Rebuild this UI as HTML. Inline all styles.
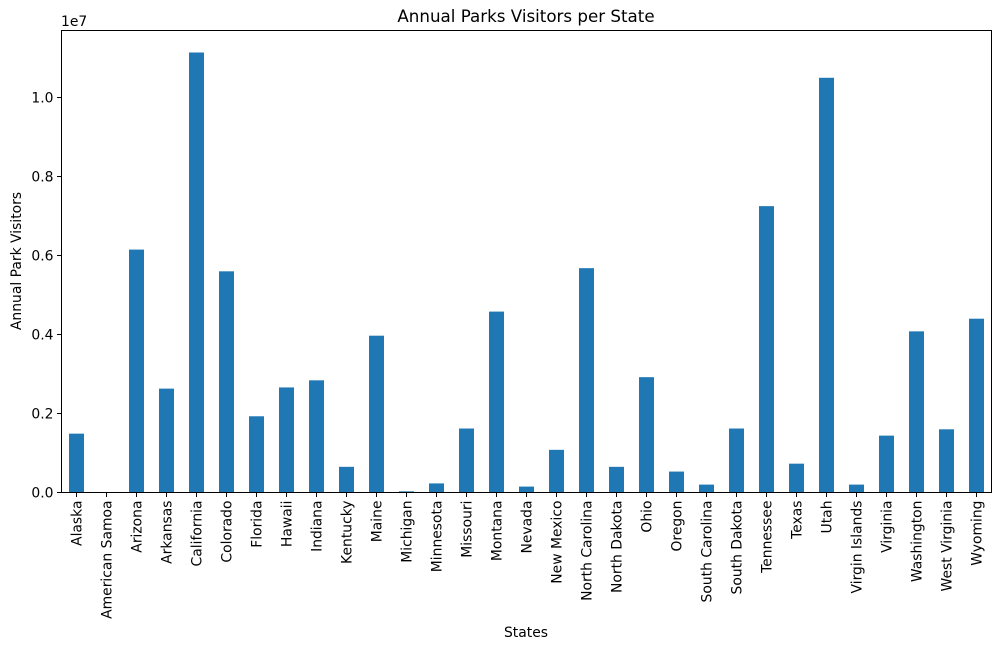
<!DOCTYPE html>
<html><head><meta charset="utf-8"><style>
html,body{margin:0;padding:0;background:#fff}
svg{display:block;font-family:"DejaVu Sans","Liberation Sans",sans-serif}
</style></head><body>
<svg id="chart" width="1001" height="650">
<text x="526" y="22" text-anchor="middle" font-size="16.7">Annual Parks Visitors per State</text>
<text x="61" y="26" font-size="13.9">1e7</text>
<text transform="translate(21,261) rotate(-90)" text-anchor="middle" font-size="13.9">Annual Park Visitors</text>
<text x="526" y="637" text-anchor="middle" font-size="13.9">States</text>
<g id="bars"></g><g id="xt"></g><g id="yt"></g>
<rect x="61.5" y="30.5" width="930" height="462" fill="none" stroke="#000" stroke-width="1"/>
</svg>
<script>
const categories=["Alaska","American Samoa","Arizona","Arkansas","California","Colorado","Florida","Hawaii","Indiana","Kentucky","Maine","Michigan","Minnesota","Missouri","Montana","Nevada","New Mexico","North Carolina","North Dakota","Ohio","Oregon","South Carolina","South Dakota","Tennessee","Texas","Utah","Virgin Islands","Virginia","Washington","West Virginia","Wyoming"];
const visitors=[1490000,5000,6150000,2630000,11140000,5600000,1930000,2660000,2840000,650000,3970000,30000,230000,1620000,4580000,150000,1080000,5680000,650000,2920000,530000,200000,1620000,7250000,730000,10500000,200000,1440000,4080000,1600000,4400000];
const yTicks=[0,2000000,4000000,6000000,8000000,10000000];
const yTickLabels=["0.0","0.2","0.4","0.6","0.8","1.0"];
const NS="http://www.w3.org/2000/svg";
const L=61.5,R=991.5,T=30.5,B=492.5;
const yMax=Math.max(...visitors)*1.05;
const y=v=>B-(v/yMax)*(B-T);
const step=(R-L)/categories.length;
const x=i=>L+step*(i+0.5);
const bars=document.getElementById('bars'),xt=document.getElementById('xt'),yt=document.getElementById('yt');
categories.forEach((c,i)=>{
 const r=document.createElementNS(NS,'rect');
 r.setAttribute('x',x(i)-step/4);r.setAttribute('width',step/2);
 r.setAttribute('y',y(visitors[i]));r.setAttribute('height',B-y(visitors[i]));
 r.setAttribute('fill','#1f77b4');
 
 
 bars.appendChild(r);
 const t=document.createElementNS(NS,'line');
 t.setAttribute('x1',x(i));t.setAttribute('x2',x(i));t.setAttribute('y1',B);t.setAttribute('y2',B+4.5);t.setAttribute('stroke','#000');
 
 
 xt.appendChild(t);
 const tx=document.createElementNS(NS,'text');
 tx.setAttribute('transform','translate('+(x(i)+5)+','+(B+8)+') rotate(-90)');
 tx.setAttribute('text-anchor','end');tx.setAttribute('font-size','13.9');
 tx.textContent=c;
 
 
 xt.appendChild(tx);
});
yTicks.forEach((v,i)=>{
 const t=document.createElementNS(NS,'line');
 t.setAttribute('x1',L-4.5);t.setAttribute('x2',L);t.setAttribute('y1',y(v));t.setAttribute('y2',y(v));t.setAttribute('stroke','#000');
 
 
 yt.appendChild(t);
 const tx=document.createElementNS(NS,'text');
 tx.setAttribute('x',L-8);tx.setAttribute('y',y(v)+5);tx.setAttribute('text-anchor','end');tx.setAttribute('font-size','13.9');
 tx.textContent=yTickLabels[i];
 
 
 yt.appendChild(tx);
});
</script>
</body></html>
